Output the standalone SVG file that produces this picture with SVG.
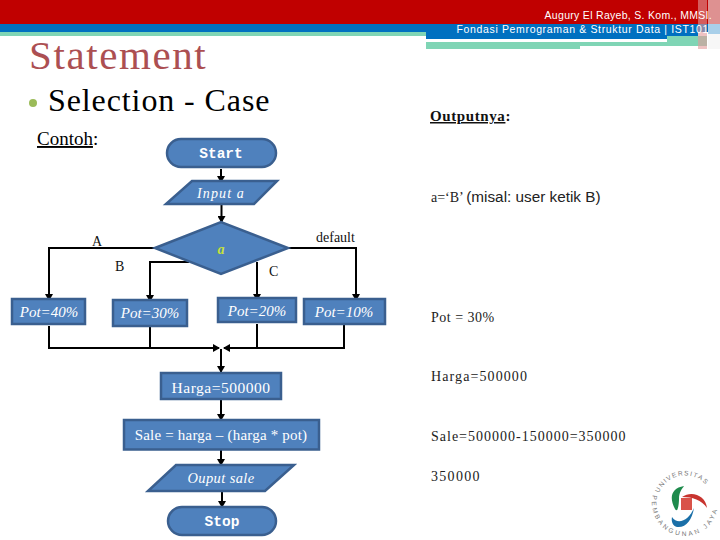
<svg xmlns="http://www.w3.org/2000/svg" width="720" height="540" viewBox="0 0 720 540">
<style>
.n{fill:#4f81bd;stroke:#3a5f8f;stroke-width:2.5}
.s{font-family:"Liberation Serif",serif}
.w{fill:#fff;text-anchor:middle}
.l{fill:#111;font-size:14px}
.c{fill:none;stroke:#000;stroke-width:2}
.r{font-size:14px;fill:#222}
.h{font-family:"Liberation Sans",sans-serif;font-size:10.5px;fill:#fff;text-anchor:end}
.g{font-family:"Liberation Sans",sans-serif;font-size:6.5px;fill:#777}
</style>
<defs>
<marker id="a" markerWidth="8" markerHeight="8" refX="6" refY="4" orient="auto" markerUnits="userSpaceOnUse"><path d="M0 0L7 4L0 8Z" fill="#000"/></marker>
<path id="arcTop" d="M659 493A28 28 0 0 1 711 493"/>
<path id="arcBot" d="M653 495A33 33 0 1 0 717 495"/>
</defs>
<rect width="720" height="24" fill="#c00000"/>
<rect y="24" width="720" height="8" fill="#0070c0"/>
<rect y="32" width="426" height="4" fill="#7fd5b5"/>
<rect x="426" y="32" width="241" height="7" fill="#0070c0"/>
<rect x="667" y="32" width="31" height="4" fill="#0070c0"/>
<rect x="667" y="36" width="40" height="10" fill="#7fd5b5"/>
<rect x="426" y="42" width="154" height="7" fill="#7fd5b5"/>
<rect x="580" y="42" width="127" height="4" fill="#7fd5b5"/>
<rect x="698" y="0" width="9" height="49" fill="#e39a9a" opacity=".6"/>
<rect x="708" y="0" width="12" height="49" fill="#f2f2f2" opacity=".6"/>
<rect x="708" y="24" width="12" height="10" fill="#a9cfe9"/>
<text class="h" x="712" y="19" letter-spacing=".3">Augury El Rayeb, S. Kom., MMSI.</text>
<text class="h" x="709" y="33" letter-spacing=".65">Fondasi Pemrograman &amp; Struktur Data | IST101</text>
<text class="s" x="29" y="69" font-size="41" letter-spacing="1.600" fill="#ac4f52">Statement</text>
<circle cx="33" cy="103" r="4" fill="#9bbb59"/>
<text class="s" x="48" y="111" font-size="32" letter-spacing=".9" fill="#000">Selection - Case</text>
<text class="s" x="37" y="145" font-size="19" fill="#000"><tspan text-decoration="underline">Contoh</tspan>:</text>
<text class="s" x="430" y="121" font-size="15" letter-spacing=".6" font-weight="bold" fill="#111"><tspan text-decoration="underline">Outputnya</tspan>:</text>
<g id="connectors">
<path class="c" d="M221 169V182" marker-end="url(#a)"/>
<path class="c" d="M221.500 205V222" marker-end="url(#a)"/>
<path class="c" d="M155 248H49V300" marker-end="url(#a)"/>
<path class="c" d="M189 262H150V301" marker-end="url(#a)"/>
<path class="c" d="M257 262V300" marker-end="url(#a)"/>
<path class="c" d="M289 248H356V300" marker-end="url(#a)"/>
<path class="c" d="M49 326V348H219" marker-end="url(#a)"/>
<path class="c" d="M150 326V348"/>
<path class="c" d="M257 324V348"/>
<path class="c" d="M344 324V348H224" marker-end="url(#a)"/>
<path class="c" d="M221 349V372" marker-end="url(#a)"/>
<path class="c" d="M221 400V420" marker-end="url(#a)"/>
<path class="c" d="M221 450V465" marker-end="url(#a)"/>
<path class="c" d="M222 491V507" marker-end="url(#a)"/>
</g>
<g id="start"><rect class="n" x="167" y="139" width="109" height="28" rx="14"/><text class="w" x="221" y="158" font-family="Liberation Mono,monospace" font-weight="bold" font-size="14.500">Start</text></g>
<g id="input"><path class="n" d="M192 181H277L254 204H166Z"/><text class="s w" x="221" y="198" font-size="14" font-style="italic" letter-spacing="1.100">Input a</text></g>
<g id="decision"><path class="n" d="M155 248L221 222L288 248L221 274Z"/><text class="s" x="221" y="254" font-size="14" font-weight="bold" font-style="italic" text-anchor="middle" fill="#c6e23a">a</text></g>
<g id="pot40"><rect class="n" x="12" y="299" width="73" height="25"/><text class="s w" x="49" y="317" font-size="15" font-style="italic">Pot=40%</text></g>
<g id="pot30"><rect class="n" x="113" y="300" width="74" height="26"/><text class="s w" x="150" y="318" font-size="15" font-style="italic">Pot=30%</text></g>
<g id="pot20"><rect class="n" x="218" y="298" width="78" height="24"/><text class="s w" x="257" y="316" font-size="15" font-style="italic">Pot=20%</text></g>
<g id="pot10"><rect class="n" x="304" y="299" width="81" height="25"/><text class="s w" x="344" y="317" font-size="15" font-style="italic">Pot=10%</text></g>
<g id="harga"><rect class="n" x="161" y="373" width="120" height="26"/><text class="s w" x="221" y="393" font-size="15.500" letter-spacing=".5">Harga=500000</text></g>
<g id="sale"><rect class="n" x="124" y="420" width="195" height="29.500"/><text class="s w" x="221" y="440" font-size="15" letter-spacing=".2">Sale = harga – (harga * pot)</text></g>
<g id="output"><path class="n" d="M176 465H294L265 491H148Z"/><text class="s w" x="221" y="483" font-size="14.500" letter-spacing=".4" font-style="italic">Ouput sale</text></g>
<g id="stop"><rect class="n" x="168" y="507" width="108" height="28" rx="14"/><text class="w" x="222" y="526" font-family="Liberation Mono,monospace" font-weight="bold" font-size="14.500">Stop</text></g>
<text class="s l" x="92" y="246">A</text>
<text class="s l" x="115" y="271">B</text>
<text class="s l" x="269" y="276">C</text>
<text class="s l" x="316" y="242">default</text>
<text class="s r" x="431" y="202">a=‘B’ <tspan font-family="Liberation Sans,sans-serif" font-size="15.300">(misal: user ketik B)</tspan></text>
<text class="s r" x="431" y="322" letter-spacing=".5">Pot = 30%</text>
<text class="s r" x="431" y="381" letter-spacing="1.100">Harga=500000</text>
<text class="s r" x="431" y="441" letter-spacing="1">Sale=500000-150000=350000</text>
<text class="s r" x="431" y="481" letter-spacing="1.300">350000</text>
<g id="logo">
<text class="g" letter-spacing="1.300"><textPath href="#arcTop">UNIVERSITAS</textPath></text>
<text class="g" letter-spacing="2.400"><textPath href="#arcBot">PEMBANGUNAN JAYA</textPath></text>
<path d="M684 486C671 488 669 498 675 509C678 514 679 503 679 499C679 492 682 489 684 486Z" fill="#1e8a4c"/>
<path d="M682 497C692 490 706 496 707 508C702 500 692 497 682 497Z" fill="#c8342f"/>
<path d="M672 517C678 526 689 520 694 508C692 520 686 528 677 527C673 526 671 522 672 517Z" fill="#1a6fa8"/>
<rect x="681" y="498" width="11" height="12" fill="#d9534a"/>
</g>
</svg>
